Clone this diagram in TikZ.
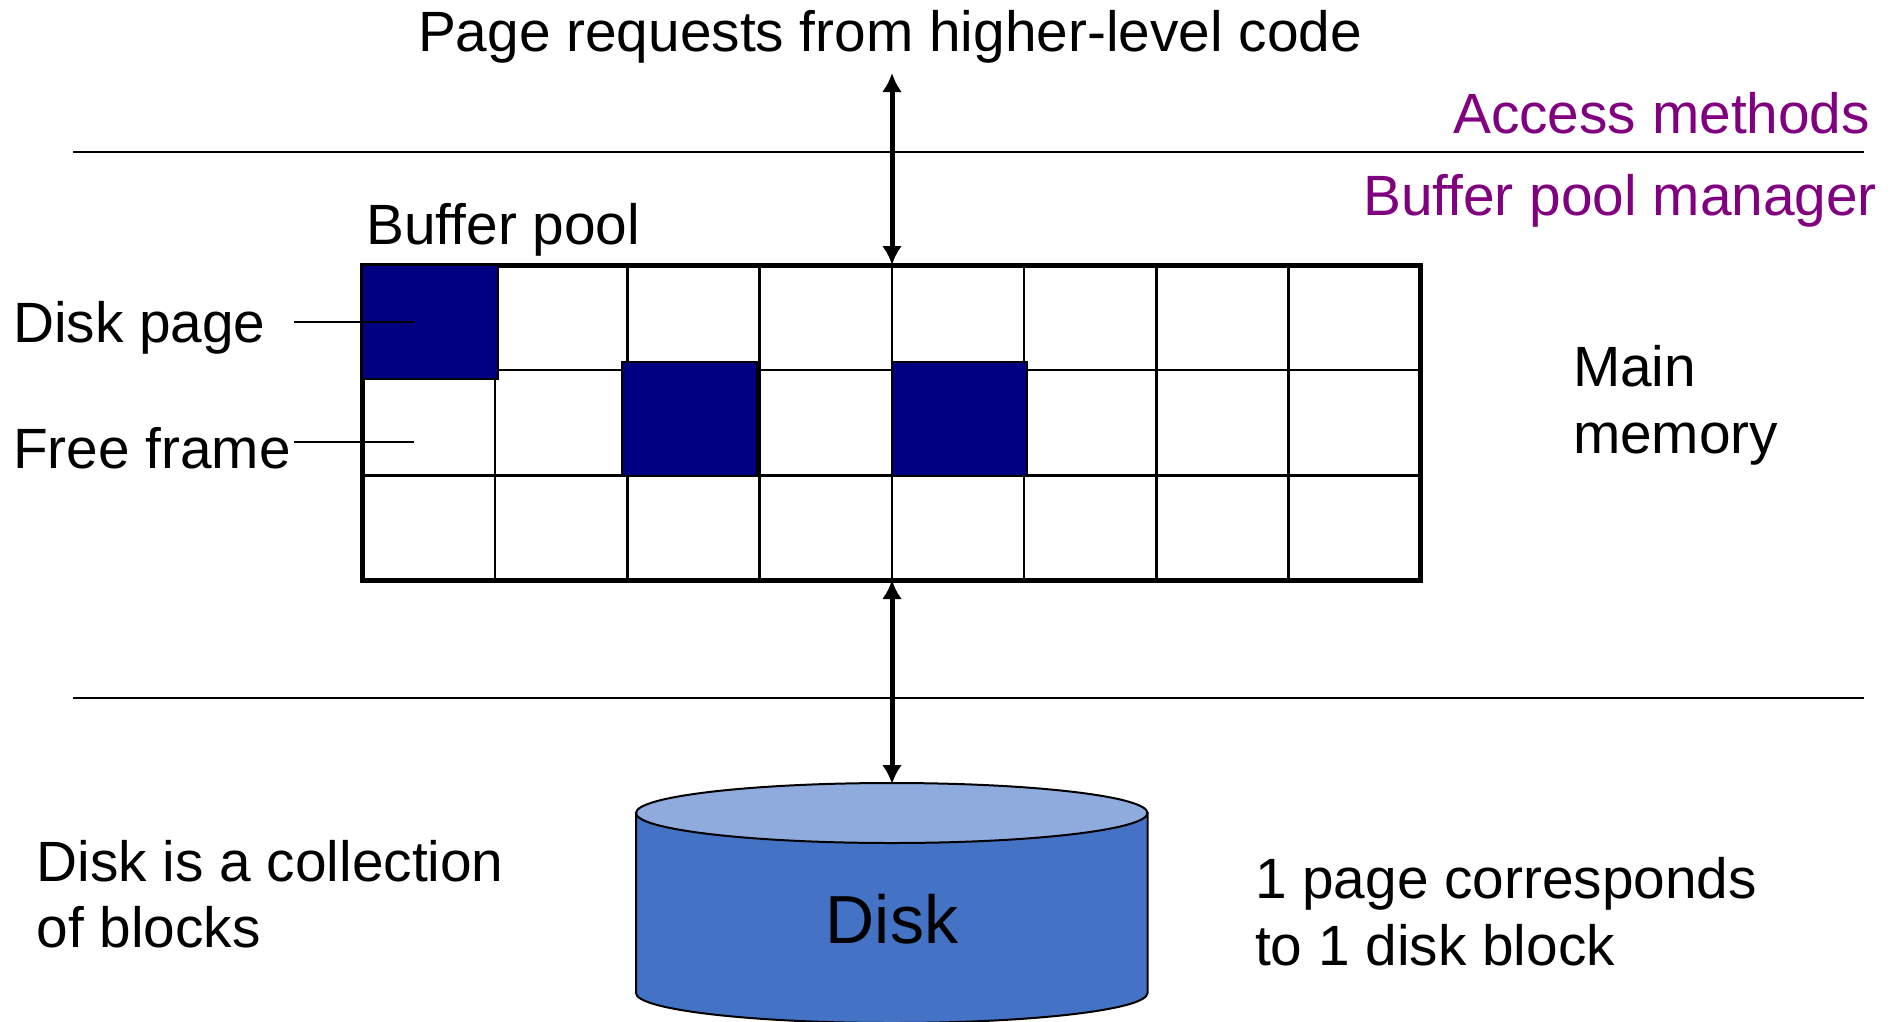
\documentclass[tikz,border=0pt]{standalone}
\usepackage{fontspec}
\setmainfont{Liberation Sans}
\usetikzlibrary{arrows.meta,shapes.geometric}
\definecolor{framefill}{HTML}{000080}
\definecolor{diskbody}{HTML}{4472C4}
\definecolor{disktop}{HTML}{8FAADC}
\definecolor{layerpurple}{HTML}{800080}
\tikzset{
  x=1pt,y=-1pt,
  lbl/.style={inner sep=0pt,outer sep=0pt,anchor=base west,font=\fontsize{56.8}{60}\selectfont},
  lblr/.style={inner sep=0pt,outer sep=0pt,anchor=base east,text=layerpurple,font=\fontsize{56.8}{60}\selectfont},
  rule/.style={line width=2pt,black},
  gridline/.style={line width=2.6pt,black},
  pageblock/.style={draw=black,line width=2pt,fill=framefill},
  biarrow/.style={line width=5pt,black,{Latex[length=19pt,width=20pt]}-{Latex[length=19pt,width=20pt]},shorten <=0pt,shorten >=0pt},
  diskedge/.style={draw=black,line width=2pt}
}
\begin{document}
\begin{tikzpicture}
\useasboundingbox (0,0) rectangle (1899,1021);
\clip (0,0) rectangle (1899,1021);
% layer rules
\coordinate (ruleAw) at (73,152);
\coordinate (ruleAe) at (1864,152);
\coordinate (ruleBw) at (73,698);
\coordinate (ruleBe) at (1864,698);
\draw[rule] (ruleAw) -- (ruleAe);
\draw[rule] (ruleBw) -- (ruleBe);
% grid lines
\foreach \i in {1,...,7}
  \draw[gridline] ({362.6+\i*132.3},265) -- ({362.6+\i*132.3},580);
\draw[gridline] (362,370) -- (1421,370);
\draw[gridline] (362,475.5) -- (1421,475.5);
% pool outline
\node[draw=black,line width=5pt,minimum width=1058pt,minimum height=315pt,inner sep=0pt,outer sep=0pt,anchor=north west] (pool) at (362.5,265) {};
% occupied frames
\draw[pageblock] (362,265) rectangle (498,378.5);
\draw[pageblock] (621.5,362) rectangle (757,476);
\draw[pageblock] (892,362) rectangle (1027,476);
% disk
\fill[diskbody] (636,812) -- (636,993) arc[start angle=180,end angle=360,x radius=255.75pt,y radius=30pt] -- (1147.5,812) -- cycle;
\draw[diskedge] (636,812) -- (636,993) arc[start angle=180,end angle=360,x radius=255.75pt,y radius=30pt] -- (1147.5,812);
\node[draw=black,line width=2pt,fill=disktop,ellipse,minimum width=511.5pt,minimum height=60pt,inner sep=0pt,outer sep=0pt] (disktopface) at (891.75,813) {};
\node[inner sep=0pt,font=\fontsize{68}{70}\selectfont,anchor=base] (disklabel) at (892,943) {Disk};
% arrows
\coordinate (reqtop) at (892,73);
\coordinate (pooltop) at (892,265);
\coordinate (poolbot) at (892,580);
\coordinate (disktip) at (892,784);
\draw[biarrow] (reqtop) -- (pooltop);
\draw[biarrow] (poolbot) -- (disktip);
% leaders
\coordinate (diskpageA) at (294,322);
\coordinate (diskpageB) at (414,322);
\coordinate (freeA) at (294,442);
\coordinate (freeB) at (414,442);
\draw[rule] (diskpageA) -- (diskpageB);
\draw[rule] (freeA) -- (freeB);
% labels
\node[lbl] (req) at (418,51) {Page requests from higher-level code};
\node[lblr] (access) at (1870,133) {Access methods};
\node[lblr] (bpm) at (1877,215) {Buffer pool manager};
\node[lbl] (bp) at (366.5,244) {Buffer pool};
\node[lbl] (dp) at (13,342) {Disk page};
\node[lbl] (ff) at (13,468) {Free frame};
\node[lbl] (mm1) at (1573,386.5) {Main};
\node[lbl] (mm2) at (1573,453.5) {memory};
\node[lbl] (dc1) at (36.5,881) {Disk is a collection};
\node[lbl] (dc2) at (36.5,947) {of blocks};
\node[lbl] (pc1) at (1255,898) {1 page corresponds};
\node[lbl] (pc2) at (1255,965) {to 1 disk block};
\end{tikzpicture}
\end{document}
